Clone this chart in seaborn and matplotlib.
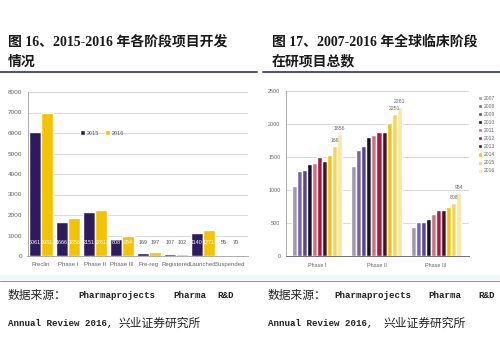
import numpy as np
import pandas as pd
import matplotlib
matplotlib.use("Agg")
import matplotlib.pyplot as plt
from matplotlib.lines import Line2D
from matplotlib.patches import Rectangle
import seaborn as sns

# ---------------- data ----------------
stages = ["Preclin", "Phase I", "Phase II", "Phase III", "Pre-reg", "Registered", "Launched", "Suspended"]
v2015 = [6061, 1666, 2151, 808, 169, 107, 1140, 55]
v2016 = [6981, 1856, 2261, 954, 197, 102, 1271, 70]

phases = ["Phase I", "Phase II", "Phase III"]
years = ["2007", "2008", "2009", "2010", "2011", "2012", "2013", "2014", "2015", "2016"]
phase1 = [1060, 1285, 1300, 1393, 1414, 1496, 1440, 1532, 1666, 1856]
phase2 = [1360, 1600, 1660, 1800, 1840, 1885, 1885, 2020, 2151, 2261]
phase3 = [443, 514, 514, 555, 632, 694, 694, 750, 808, 954]
label15 = ["166", "2251", "808"]
label16 = ["1856", "2261", "954"]

year_colors = ["#9c9ab3", "#7565a8", "#5a4596", "#14102e", "#c9737f",
               "#b0173f", "#4a1020", "#f4c20d", "#f7d552", "#f9e7a3"]
c15, c16 = "#2d1b5e", "#f3c300"

# ---------------- figure ----------------
sns.set_theme(style="white")
plt.rcParams["font.family"] = ["Liberation Sans", "Noto Sans CJK SC"]
W, H = 500, 362
fig = plt.figure(figsize=(5, 3.62), dpi=100)
fig.patch.set_facecolor("white")

def fx(px):
    return px / W

def fy(py):
    return 1 - py / H

# light strip and separator lines
fig.add_artist(Rectangle((0, fy(280)), 1, 5 / H, transform=fig.transFigure,
                         color="#eef8f8", lw=0, zorder=0))
fig.add_artist(Line2D([0, 1], [fy(280.5)] * 2, transform=fig.transFigure, color="#8a9ab0", lw=0.8))
fig.add_artist(Line2D([0, fx(257)], [fy(71.5)] * 2, transform=fig.transFigure, color="#3d4178", lw=1.3))
fig.add_artist(Line2D([fx(263), 1], [fy(71.5)] * 2, transform=fig.transFigure, color="#3d4178", lw=1.3))

# titles
tfam = ["Liberation Serif", "Noto Sans CJK SC"]
fig.text(fx(8), fy(42), "图 16、2015-2016 年各阶段项目开发", family=tfam, weight="bold",
         size=10, va="center", ha="left", color="#1a1a1a")
fig.text(fx(8), fy(62), "情况", family=tfam, weight="bold", size=10, va="center", color="#1a1a1a")
fig.text(fx(272), fy(42), "图 17、2007-2016 年全球临床阶段", family=tfam, weight="bold",
         size=10, va="center", ha="left", color="#1a1a1a")
fig.text(fx(272), fy(62), "在研项目总数", family=tfam, weight="bold", size=10, va="center", color="#1a1a1a")

# ---------------- left chart ----------------
axL = fig.add_axes([fx(27.5), fy(256), fx(220), 164 / H])
dfL = pd.DataFrame({"stage": stages * 2,
                    "year": ["2015"] * len(stages) + ["2016"] * len(stages),
                    "value": v2015 + v2016})
sns.barplot(data=dfL, x="stage", y="value", hue="year", palette={"2015": c15, "2016": c16},
            width=0.9, saturation=1, ax=axL, legend=True)
axL.set_xlim(-0.5, 7.65)
axL.set_ylim(0, 8000)
axL.set_yticks(range(0, 8001, 1000))
axL.yaxis.grid(True, color="#d4d4d4", lw=0.6)
axL.set_axisbelow(True)
axL.set_xlabel("")
axL.set_ylabel("")
for s in ["top", "right"]:
    axL.spines[s].set_visible(False)
for s in ["left", "bottom"]:
    axL.spines[s].set_color("#a0a0a0")
    axL.spines[s].set_linewidth(0.6)
axL.tick_params(axis="y", labelsize=4.6, colors="#666666", length=2, width=0.5, pad=2)
axL.tick_params(axis="x", labelsize=4.3, colors="#666666", length=0, pad=4)
for cont, vals in zip(axL.containers, [v2015, v2016]):
    for bar, v in zip(cont, vals):
        x = bar.get_x() + bar.get_width() / 2
        axL.text(x, 680, str(v), ha="center", va="center", fontsize=3.9,
                 color="white" if v > 700 else "#555555")
sns.move_legend(axL, "center", bbox_to_anchor=(fx(102), fy(133)), bbox_transform=fig.transFigure,
                ncol=2, frameon=False, title=None, fontsize=4.0, handlelength=0.9, handleheight=0.9,
                handletextpad=0.25, columnspacing=1.2, labelcolor="#555555")

# ---------------- right chart ----------------
axR = fig.add_axes([fx(286), fy(256), fx(183), 165 / H])
dfR = pd.DataFrame({"phase": np.repeat(phases, len(years)),
                    "year": years * len(phases),
                    "value": phase1 + phase2 + phase3})
sns.barplot(data=dfR, x="phase", y="value", hue="year", palette=dict(zip(years, year_colors)),
            width=0.85, saturation=1, ax=axR, legend=True)
axR.set_xlim(-0.52, 2.555)
axR.set_ylim(0, 2500)
axR.set_yticks(range(0, 2501, 500))
axR.yaxis.grid(True, color="#d4d4d4", lw=0.6)
axR.set_axisbelow(True)
axR.set_xlabel("")
axR.set_ylabel("")
for s in ["top", "right"]:
    axR.spines[s].set_visible(False)
axR.spines["left"].set_color("#a0a0a0")
axR.spines["left"].set_linewidth(0.6)
axR.spines["bottom"].set_color("#707070")
axR.spines["bottom"].set_linewidth(0.7)
axR.tick_params(axis="y", labelsize=3.9, colors="#666666", length=2, width=0.5, pad=2)
axR.tick_params(axis="x", labelsize=3.9, colors="#666666", length=0, pad=5)
for cont, labs in zip(axR.containers[-2:], [label15, label16]):
    for bar, lab in zip(cont, labs):
        x = bar.get_x() + bar.get_width() / 2
        axR.text(x, bar.get_height() + 40, lab, ha="center", va="bottom", fontsize=3.7, color="#666666")
sns.move_legend(axR, "upper left", bbox_to_anchor=(fx(475), fy(93)), bbox_transform=fig.transFigure,
                ncol=1, frameon=False, title=None, fontsize=3.6, handlelength=0.9, handleheight=0.9,
                handletextpad=0.4, labelspacing=0.62, labelcolor="#666666", borderpad=0)

# ---------------- source text ----------------
mono = ["Liberation Mono", "Noto Sans CJK SC"]
cjk = ["Noto Sans CJK SC"]
tc = "#222222"
for x0, offs in [(8, (70, 165, 209, 110)), (268, (66, 160, 210, 115))]:
    fig.text(fx(x0), fy(295), "数据来源：", family=cjk, size=8.5, va="center", color=tc)
    fig.text(fx(x0 + offs[0]), fy(295), "Pharmaprojects", family=mono, size=6.6, va="center", color=tc, weight="bold")
    fig.text(fx(x0 + offs[1]), fy(295), "Pharma", family=mono, size=6.6, va="center", color=tc, weight="bold")
    fig.text(fx(x0 + offs[2]), fy(295), "R&D", family=mono, size=6.6, va="center", color=tc, weight="bold")
    fig.text(fx(x0), fy(323), "Annual Review 2016,", family=mono, size=6.6, va="center", color=tc, weight="bold")
    fig.text(fx(x0 + offs[3]), fy(323), "兴业证券研究所", family=cjk, size=8.5, va="center", color=tc)

fig.savefig("out.png", dpi=100)
